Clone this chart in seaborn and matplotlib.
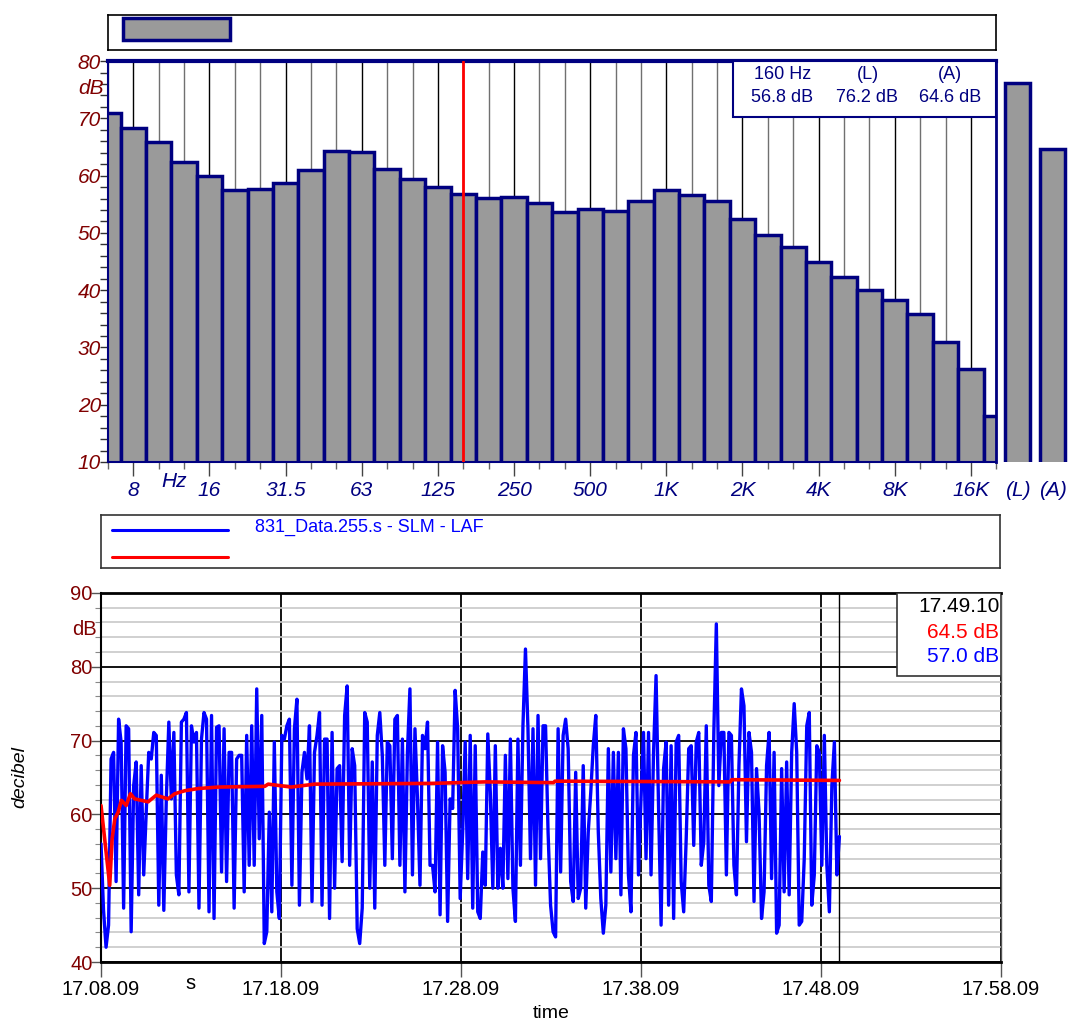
import numpy as np
import pandas as pd
import matplotlib
matplotlib.use('Agg')
import matplotlib.pyplot as plt
import matplotlib.dates as mdates
import matplotlib.transforms as mtransforms
from matplotlib.patches import Rectangle
from matplotlib.lines import Line2D
import seaborn as sns

# 1/3 octave spectrum, 6.3 Hz .. 20 kHz
bands = ['6.3', '8', '10', '12.5', '16', '20', '25', '31.5', '40', '50', '63', '80',
         '100', '125', '160', '200', '250', '315', '400', '500', '630', '800',
         '1K', '1.25K', '1.6K', '2K', '2.5K', '3.15K', '4K', '5K', '6.3K', '8K',
         '10K', '12.5K', '16K', '20K']
levels = [70.9, 68.3, 65.9, 62.4, 59.9, 57.5, 57.7, 58.7, 61.0, 64.3, 64.1, 61.2,
          59.4, 58.0, 56.8, 56.1, 56.3, 55.2, 53.6, 54.2, 53.8, 55.6,
          57.5, 56.6, 55.6, 52.4, 49.6, 47.5, 44.9, 42.3, 40.0, 38.3,
          35.8, 31.0, 26.3, 18.0]
labelled_bands = ['8', '16', '31.5', '63', '125', '250', '500', '1K', '2K', '4K', '8K', '16K']
cursor_band = '160'
overall_names = ['(L)', '(A)']
overall_levels = [76.2, 64.6]

# time history (LAF) 17.08.09 .. 17.49.10
t_start = '2020-01-01 17:08:09'
t_end = '2020-01-01 17:49:10'
laf = [56, 47, 42, 45, 67.5, 68.4, 50.9, 72.9, 69.8, 47.3, 72, 71.6, 44.1, 63.9, 67.1, 49.1,
       66.6, 51.8, 60.3, 68.4, 67.5, 71.1, 70.7, 47.7, 65.3, 47, 62.1, 72.5, 62.1, 71.1, 51.8,
       49.1, 72.5, 72.9, 73.8, 49.5, 72, 69.8, 71.1, 47.3, 70.2, 73.8, 72.9, 46.8, 73.4, 45.9,
       71.8, 72, 52.2, 71.6, 50.9, 68.4, 68.4, 47.3, 67.5, 68, 68, 49.5, 70.7, 53.1, 72, 53.1,
       77, 56.7, 73.4, 42.5, 44.1, 60.3, 46.8, 69.8, 49.5, 45.9, 70.7, 70.2, 72, 72.9, 50.4,
       71.6, 75.6, 47.7, 65.7, 68.4, 64.8, 72, 48.2, 68.4, 70.7, 73.8, 47.7, 70.2, 70.2, 45.9,
       71.1, 50, 66.2, 66.6, 53.6, 73.4, 77.4, 53.1, 68.9, 66.6, 44.5, 42.5, 47.3, 73.8, 72.5,
       50, 67.1, 47.3, 70.7, 73.8, 68, 53.1, 69.8, 69.3, 54, 72.9, 73.4, 53.1, 70.2, 49.5, 68.4,
       77, 51.8, 71.6, 62.1, 50.4, 70.7, 68.9, 72.5, 53.1, 53.1, 49.5,
       69.8, 46.4, 69.3, 65.7, 45.5, 62.1, 60.8, 76.8, 71.6, 48.6, 57.6, 69.8, 51.3, 70.7, 47.3,
       69.3, 46.8, 45.9, 54.9, 50.4, 70.9, 63, 50, 69.3, 50, 55.4, 50, 68, 51.3, 70.2, 50, 45.5,
       70.2, 53.1, 72, 82.4, 71.6, 54, 71.6, 50.4, 73.4, 54, 72, 72, 57.6, 47.7, 44.1, 43.4,
       71.6, 52.2, 70.7, 72.9, 68.9, 50.9, 48.2, 65.7, 48.6, 50, 66.6, 47.3, 57.6, 63, 69.3,
       73.4, 57.6, 48.6, 43.9, 47.7, 68.9, 52.2, 68.4, 54, 68.4, 49.1, 71.6, 68.9, 51.8, 46.8,
       68, 71.1, 51.8, 62.1, 71.1, 54, 71.1, 51.8, 68.4, 78.8, 60.8, 45, 66.2, 69.8, 47.7, 69.3,
       45.9, 69.8, 70.7, 50.9, 46.8, 56.7, 68.9, 69.3, 55.8, 69.8, 71.1, 53.1, 56.3, 72, 50.4,
       48.2, 71.1, 85.8, 63.9, 71.1, 71.1, 51.8, 71.1, 70.7, 53.1, 49.1, 66.6, 77, 74.7, 56.3,
       71.1, 68.4, 48.2, 66.2, 60.3, 45.9, 49.5, 66.6, 71.1, 51.3, 68.4, 43.9, 45, 66.2, 49.5,
       67.1, 49.1, 68.4, 75, 68.4, 45, 45.5, 54, 72, 73.8, 47.7, 51.8, 69.3, 68.4, 53.1, 70.7,
       53.1, 46.8, 63.9, 69.8, 51.8, 57]
# running Leq (seconds after start, dB)
leq_sec = [0, 29, 37, 46, 57, 68, 84, 98, 112, 157, 184, 223, 246, 279, 323, 390, 546, 557,
           634, 712, 1101, 1280, 1508, 1513, 2097, 2102, 2461]
leq_db = [61.2, 50.4, 56.7, 59.4, 60.3, 61.9, 61.2, 62.8, 62.1, 61.7, 62.6, 62.1, 62.8, 63.2,
          63.5, 63.7, 63.8, 64.1, 63.7, 64.1, 64.2, 64.4, 64.3, 64.5, 64.4, 64.7, 64.6]

NAVY = '#000080'
DARKRED = '#800000'
BARGRAY = '#9a9a9a'

sns.set_theme(style='white')
plt.rcParams['font.family'] = ['Liberation Sans', 'DejaVu Sans']

fig = plt.figure(figsize=(10.69, 10.28), dpi=100)

# ---------------- spectrum ----------------
leg1 = fig.add_axes([0.101, 0.9514, 0.831, 0.034])
leg1.set_xticks([]); leg1.set_yticks([])
for s in leg1.spines.values():
    s.set_color('black'); s.set_linewidth(1.2)
leg1.add_patch(Rectangle((0.017, 0.29), 0.12, 0.62, transform=leg1.transAxes,
                         fc=BARGRAY, ec=NAVY, lw=2.5))

ax1 = fig.add_axes([0.101, 0.5506, 0.831, 0.390])
spec = pd.DataFrame({'band': bands, 'level': levels})
sns.barplot(data=spec, x='band', y='level', order=bands, width=1.0, color=BARGRAY,
            saturation=1, edgecolor=NAVY, linewidth=2.5, ax=ax1, zorder=2)
ax1.set_xlim(0, len(bands) - 1)
ax1.set_ylim(10, 80)
ax1.set_xlabel(''); ax1.set_ylabel('')
major_idx = [bands.index(b) for b in labelled_bands]
minor_idx = [i for i in range(len(bands)) if i not in major_idx]
ax1.set_xticks(major_idx, labelled_bands)
ax1.set_xticks(minor_idx, minor=True)
ax1.set_yticks(range(10, 81, 10))
ax1.set_yticks(range(10, 81, 2), minor=True)
ax1.set_axisbelow(True)
ax1.xaxis.grid(True, which='major', color='black', lw=1)
ax1.xaxis.grid(True, which='minor', color='#707070', lw=1)
ax1.yaxis.grid(False)
ax1.tick_params(axis='x', which='major', direction='out', length=10, width=1, color='#444444',
                labelsize=15, labelcolor=NAVY, pad=4, bottom=True)
ax1.tick_params(axis='x', which='minor', direction='out', length=5, width=1, color='#666666',
                bottom=True)
ax1.tick_params(axis='y', which='both', direction='out', length=6, width=1, color='#333333',
                labelsize=15, labelcolor=DARKRED, pad=-1, left=True)
for lab in ax1.get_xticklabels() + ax1.get_yticklabels():
    lab.set_fontstyle('italic')
ax1.spines['top'].set_color(NAVY); ax1.spines['top'].set_linewidth(3)
ax1.spines['left'].set_color(NAVY); ax1.spines['left'].set_linewidth(1.5)
ax1.spines['right'].set_color(NAVY); ax1.spines['right'].set_linewidth(2)
ax1.spines['bottom'].set_color(NAVY); ax1.spines['bottom'].set_linewidth(1.5)
ax1.axvline(bands.index(cursor_band), color='red', lw=2, zorder=4)
ax1.text(-0.005, 75.2, 'dB', transform=mtransforms.blended_transform_factory(ax1.transAxes, ax1.transData),
         ha='right', va='center', fontsize=15, color=DARKRED, fontstyle='italic')
ax1.text(2.6, -0.026, 'Hz', transform=mtransforms.blended_transform_factory(ax1.transData, ax1.transAxes),
         ha='center', va='top', fontsize=15, color=NAVY, fontstyle='italic')
ax1.add_patch(Rectangle((0.704, 0.86), 0.296, 0.14, transform=ax1.transAxes,
                        fc='white', ec=NAVY, lw=1.5, zorder=5, clip_on=False))
info_cols = [0.759, 0.855, 0.948]
info_head = ['160 Hz', '(L)', '(A)']
info_vals = [f'{levels[bands.index(cursor_band)]:.1f} dB'] + [f'{v:.1f} dB' for v in overall_levels]
for x, h, v in zip(info_cols, info_head, info_vals):
    ax1.text(x, 0.967, h, transform=ax1.transAxes, ha='center', va='center', fontsize=13,
             color=NAVY, zorder=6)
    ax1.text(x, 0.909, v, transform=ax1.transAxes, ha='center', va='center', fontsize=13,
             color=NAVY, zorder=6)

ax2 = fig.add_axes([0.9355, 0.5506, 0.0655, 0.390])
ov = pd.DataFrame({'name': overall_names, 'level': overall_levels})
sns.barplot(data=ov, x='name', y='level', width=0.72, color=BARGRAY, saturation=1,
            edgecolor=NAVY, linewidth=2.5, ax=ax2)
ax2.set_xlim(-0.5, 1.5)
ax2.set_ylim(10, 80)
ax2.set_xlabel(''); ax2.set_ylabel('')
ax2.set_yticks([])
for s in ax2.spines.values():
    s.set_visible(False)
ax2.tick_params(axis='x', length=0, labelsize=15, labelcolor=NAVY, pad=14)
for lab in ax2.get_xticklabels():
    lab.set_fontstyle('italic')

# ---------------- time history ----------------
leg2 = fig.add_axes([0.0945, 0.4475, 0.841, 0.0516])
leg2.set_xlim(0, 1); leg2.set_ylim(0, 1)
leg2.set_xticks([]); leg2.set_yticks([])
for s in leg2.spines.values():
    s.set_color('#333333'); s.set_linewidth(1.2)
leg2.add_line(Line2D([0.012, 0.141], [0.717, 0.717], color='blue', lw=2.2))
leg2.add_line(Line2D([0.012, 0.141], [0.208, 0.208], color='red', lw=2.2))
leg2.text(0.171, 0.77, '831_Data.255.s - SLM - LAF', color='blue', fontsize=13,
          ha='left', va='center')

ax3 = fig.add_axes([0.0945, 0.0642, 0.842, 0.359])
t0 = pd.Timestamp(t_start)
t1 = pd.Timestamp(t_end)
hist = pd.DataFrame({'time': pd.date_range(t0, t1, periods=len(laf)), 'LAF': laf})
leq = pd.DataFrame({'time': t0 + pd.to_timedelta(leq_sec, unit='s'), 'Leq': leq_db})
sns.lineplot(data=hist, x='time', y='LAF', color='blue', lw=2.4, ax=ax3, zorder=3)
sns.lineplot(data=leq, x='time', y='Leq', color='red', lw=2.6, ax=ax3, zorder=4)
ax3.set_ylim(40, 90)
major_t = [t0 + pd.Timedelta(minutes=10 * k) for k in range(6)]
ax3.set_xlim(major_t[0], major_t[-1])
ax3.set_xticks(major_t)
ax3.xaxis.set_major_formatter(mdates.DateFormatter('%H.%M.%S'))
ax3.set_yticks(range(40, 91, 10))
ax3.set_yticks(range(40, 91, 2), minor=True)
ax3.set_axisbelow(True)
ax3.grid(True, which='major', axis='both', color='black', lw=1.3)
ax3.grid(True, which='minor', axis='y', color='#c8c8c8', lw=1.2)
ax3.axvline(t1, color='black', lw=1, zorder=2)
ax3.tick_params(axis='x', which='major', direction='out', length=11, width=1, color='#555555',
                labelsize=14.5, labelcolor='black', pad=2, bottom=True)
ax3.tick_params(axis='y', which='major', direction='out', length=7, width=1, color='#555555',
                labelsize=14.5, labelcolor=DARKRED, pad=-1, left=True)
ax3.tick_params(axis='y', which='minor', direction='out', length=4, width=0.8, color='#888888',
                left=True)
for s in ['top', 'bottom']:
    ax3.spines[s].set_color('black'); ax3.spines[s].set_linewidth(2)
ax3.spines['left'].set_color('black'); ax3.spines['left'].set_linewidth(1.5)
ax3.spines['right'].set_color('#555555'); ax3.spines['right'].set_linewidth(1)
ax3.set_xlabel('time', fontsize=14, color='black', labelpad=4)
ax3.set_ylabel('decibel', fontsize=14, color='black', fontstyle='italic', labelpad=30)
ax3.text(-0.005, 85, 'dB', transform=mtransforms.blended_transform_factory(ax3.transAxes, ax3.transData),
         ha='right', va='center', fontsize=14.5, color=DARKRED)
ax3.text(0.099, -0.032, 's', transform=ax3.transAxes, ha='center', va='top', fontsize=14.5,
         color='black')
ax3.add_patch(Rectangle((0.884, 0.775), 0.116, 0.225, transform=ax3.transAxes,
                        fc='white', ec='#333333', lw=1.2, zorder=5))
ax3.text(0.998, 0.962, t1.strftime('%H.%M.%S'), transform=ax3.transAxes, ha='right',
         va='center', fontsize=15, color='black', zorder=6)
ax3.text(0.998, 0.894, f'{leq_db[-1] - 0.1:.1f} dB', transform=ax3.transAxes, ha='right',
         va='center', fontsize=15, color='red', zorder=6)
ax3.text(0.998, 0.827, f'{laf[-1]:.1f} dB', transform=ax3.transAxes, ha='right',
         va='center', fontsize=15, color='blue', zorder=6)

fig.savefig('out.png', dpi=100)
